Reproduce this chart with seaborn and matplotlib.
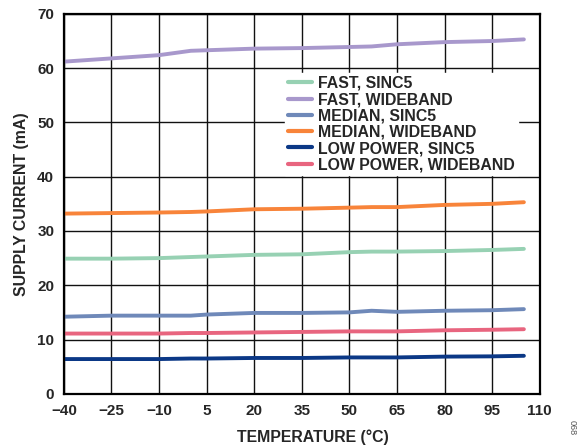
import matplotlib
matplotlib.use("Agg")
import matplotlib.pyplot as plt
import seaborn as sns
import pandas as pd

temps = [-40, -25, -10, 0, 5, 20, 35, 50, 57, 65, 80, 95, 105]
fast_sinc5 = [24.9, 24.9, 25.0, 25.2, 25.3, 25.6, 25.7, 26.1, 26.2, 26.2, 26.3, 26.5, 26.7]
fast_wideband = [61.2, 61.8, 62.4, 63.2, 63.3, 63.6, 63.7, 63.9, 64.0, 64.4, 64.8, 65.0, 65.3]
median_sinc5 = [14.2, 14.4, 14.4, 14.4, 14.6, 14.9, 14.9, 15.0, 15.3, 15.1, 15.3, 15.4, 15.6]
median_wideband = [33.2, 33.3, 33.4, 33.5, 33.6, 34.0, 34.1, 34.3, 34.4, 34.4, 34.8, 35.0, 35.3]
low_sinc5 = [6.4, 6.4, 6.4, 6.5, 6.5, 6.6, 6.6, 6.7, 6.7, 6.7, 6.85, 6.9, 7.0]
low_wideband = [11.1, 11.1, 11.1, 11.2, 11.2, 11.3, 11.4, 11.5, 11.5, 11.5, 11.7, 11.8, 11.9]

series_names = ["FAST, SINC5", "FAST, WIDEBAND", "MEDIAN, SINC5",
                "MEDIAN, WIDEBAND", "LOW POWER, SINC5", "LOW POWER, WIDEBAND"]
series_values = [fast_sinc5, fast_wideband, median_sinc5, median_wideband, low_sinc5, low_wideband]
colors = ["#97d1b3", "#a898cc", "#6f89b9", "#f8843a", "#0b3886", "#e8657f"]

x_ticks = [-40, -25, -10, 5, 20, 35, 50, 65, 80, 95, 110]
x_tick_labels = ["\u221240", "\u221225", "\u221210", "5", "20", "35", "50", "65", "80", "95", "110"]
y_ticks = [0, 10, 20, 30, 40, 50, 60, 70]

rows = []
for name, vals in zip(series_names, series_values):
    for t, v in zip(temps, vals):
        rows.append({"temp": t, "current": v, "series": name})
df = pd.DataFrame(rows)

sns.set_style("white")
plt.rcParams['font.family'] = ['Liberation Sans', 'DejaVu Sans']
plt.rcParams['font.weight'] = 'bold'

fig = plt.figure(figsize=(5.81, 4.48), dpi=100)
ax = fig.add_axes([0.110, 0.121, 0.819, 0.848])

sns.lineplot(data=df, x="temp", y="current", hue="series", hue_order=series_names,
             palette=colors, linewidth=2.8, ax=ax, legend=True)

ax.set_xlim(-40, 110)
ax.set_ylim(0, 70)
ax.set_xticks(x_ticks)
ax.set_xticklabels(x_tick_labels)
ax.set_yticks(y_ticks)
ax.grid(True, color="#111111", linewidth=1.0)
ax.set_axisbelow(True)
for s in ax.spines.values():
    s.set_color("black")
    s.set_linewidth(1.6)
ax.tick_params(axis="both", labelsize=11, length=0, pad=7)
for lab in ax.get_xticklabels() + ax.get_yticklabels():
    lab.set_fontweight("bold")
ax.set_xlabel("TEMPERATURE (\u00b0C)", fontsize=11.4, fontweight="bold")
ax.set_ylabel("SUPPLY CURRENT (mA)", fontsize=11.4, fontweight="bold")
ax.xaxis.set_label_coords(0.523, -0.095)
ax.yaxis.set_label_coords(-0.073, 0.5)

leg = ax.legend(loc="upper left", bbox_to_anchor=(0.465, 0.845), frameon=True,
                fontsize=11.4, handlelength=1.5, handletextpad=0.4,
                labelspacing=0.08, borderpad=0.2, borderaxespad=0)
leg.get_frame().set_edgecolor("white")
leg.get_frame().set_facecolor("white")
leg.get_frame().set_alpha(1.0)
leg.get_frame().set_boxstyle("square", pad=0)
for t in leg.get_texts():
    t.set_fontweight("bold")
for l in leg.get_lines():
    l.set_linewidth(3)

fig.text(0.985, 0.045, "068", rotation=270, fontsize=6.5, color="#555555",
         ha="center", va="center", fontweight="normal")

fig.savefig("out.png", dpi=100)
